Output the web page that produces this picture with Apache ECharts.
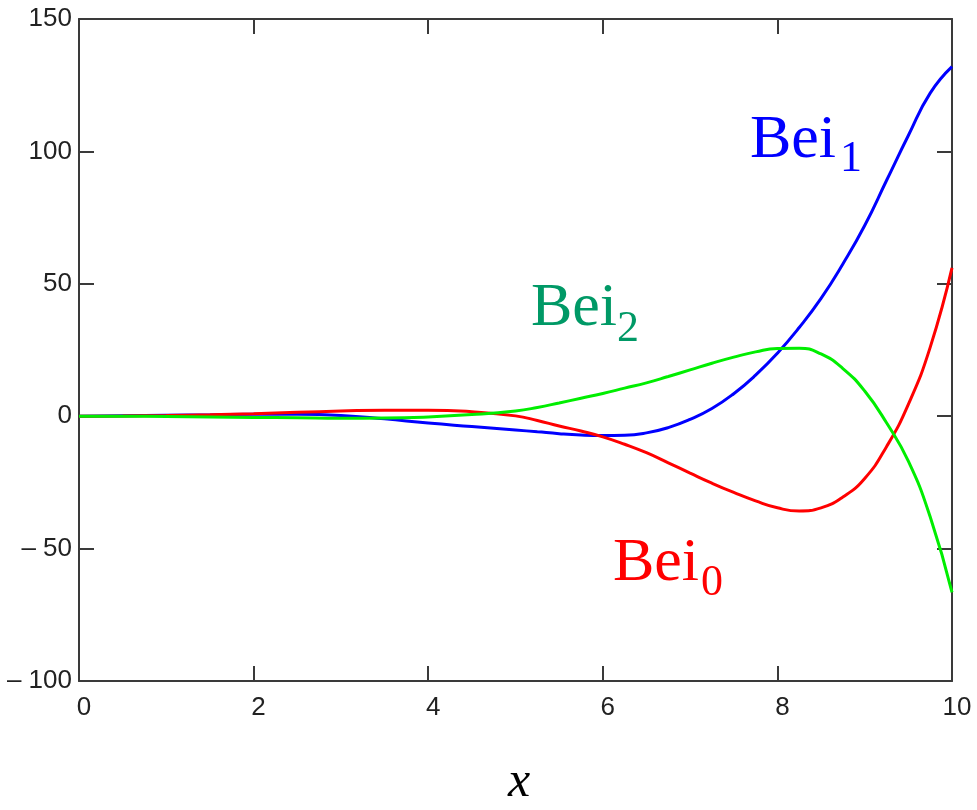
<!DOCTYPE html>
<html>
<head>
<meta charset="utf-8">
<script src="https://cdn.jsdelivr.net/npm/echarts@6/dist/echarts.min.js"></script>
<style>
  html, body { margin: 0; padding: 0; background: #fff; }
  #main { width: 977px; height: 810px; }
</style>
</head>
<body>
<div id="main"></div>
<script>
// x positions read along the axis
var xs   = [0, 0.5, 1, 1.5, 2, 2.5, 3, 3.5, 4, 4.5, 5, 5.25, 5.5, 5.75, 6, 6.25, 6.5, 6.75, 7, 7.25, 7.5, 7.75, 8, 8.25, 8.5, 8.75, 9, 9.25, 9.5, 9.75, 10];
// values
var bei0 = [0, 0.06, 0.25, 0.56, 0.97, 1.46, 1.94, 2.28, 2.29, 1.69, 0.12, -1.6, -3.7, -5.6, -7.8, -10.6, -13.8, -17.6, -21.5, -25.3, -28.8, -32.0, -34.6, -35.8, -34.6, -30.5, -23.5, -11.5, 4.5, 26, 56];
var bei1 = [0, 0.18, 0.35, 0.5, 0.7, 0.7, 0.3, -1.0, -2.6, -3.9, -5.2, -5.9, -6.6, -7.1, -7.3, -7.2, -6.3, -4.3, -1.2, 2.9, 8.5, 15.5, 23.8, 33.5, 44.5, 57.5, 72, 89, 106, 122, 132];
var bei2 = [0, -0.03, -0.12, -0.28, -0.45, -0.6, -0.75, -0.7, -0.3, 0.6, 2.0, 3.3, 5.0, 6.8, 8.6, 10.6, 12.6, 15.0, 17.5, 20.0, 22.3, 24.3, 25.6, 25.7, 23.5, 18.0, 9.5, -2.5, -17, -38, -66.5];
var yTicks = [-100, -50, 0, 50, 100, 150];

function pairs(ys) {
    return xs.map(function (x, i) { return [x, ys[i]]; });
}

var chart = echarts.init(document.getElementById('main'));

var tickFont = "'Liberation Sans', sans-serif";
var axisColor = '#3a3a3a';

function xAx(pos, showLabel) {
    return {
        type: 'value', position: pos, min: 0, max: 10, interval: 2,
        axisLine: { show: true, onZero: false, lineStyle: { color: axisColor, width: 2 } },
        axisTick: { show: true, inside: true, length: 15, lineStyle: { color: axisColor, width: 2 } },
        splitLine: { show: false },
        axisLabel: {
            show: showLabel, color: '#222', fontFamily: tickFont, fontSize: 26, margin: 14,
            padding: [0, 0, 0, 10]
        }
    };
}
function yAx(pos, showLabel) {
    return {
        type: 'value', position: pos, min: yTicks[0], max: yTicks[yTicks.length - 1], interval: 50,
        axisLine: { show: true, onZero: false, lineStyle: { color: axisColor, width: 2 } },
        axisTick: { show: true, inside: true, length: 15, lineStyle: { color: axisColor, width: 2 } },
        splitLine: { show: false },
        axisLabel: {
            show: showLabel, color: '#222', fontFamily: tickFont, fontSize: 26, margin: 7,
            formatter: function (v) { return v < 0 ? '\u2013 ' + Math.abs(v) : String(v); }
        }
    };
}

function curve(name, ys, color) {
    return {
        name: name, type: 'line', data: pairs(ys),
        xAxisIndex: 0, yAxisIndex: 0,
        showSymbol: false, smooth: 0.5,
        lineStyle: { color: color, width: 3 },
        itemStyle: { color: color }
    };
}

var serif = "'Liberation Serif', 'Times New Roman', serif";
function lbl(left, top, text, size, color, style) {
    return {
        type: 'text', left: left, top: top,
        style: { text: text, fill: color, font: (style || '') + ' ' + size + 'px ' + serif }
    };
}

var option = {
    animation: false,
    backgroundColor: '#fff',
    grid: { left: 79, right: 25, top: 19, bottom: 129 },
    xAxis: [xAx('bottom', true), xAx('top', false)],
    yAxis: [yAx('left', true), yAx('right', false)],
    series: [
        curve('Bei1', bei1, '#0000ff'),
        curve('Bei0', bei0, '#ff0000'),
        curve('Bei2', bei2, '#00ee00')
    ],
    graphic: [
        lbl(750, 110, 'Bei', 62, '#0000ff'),
        lbl(840, 137, '1', 44, '#0000ff'),
        lbl(531, 278, 'Bei', 62, '#009966'),
        lbl(617, 307, '2', 44, '#009966'),
        lbl(613, 533, 'Bei', 62, '#ff0000'),
        lbl(701, 561, '0', 44, '#ff0000'),
        lbl(508, 758, 'x', 50, '#000', 'italic')
    ]
};

chart.setOption(option);
</script>
</body>
</html>
